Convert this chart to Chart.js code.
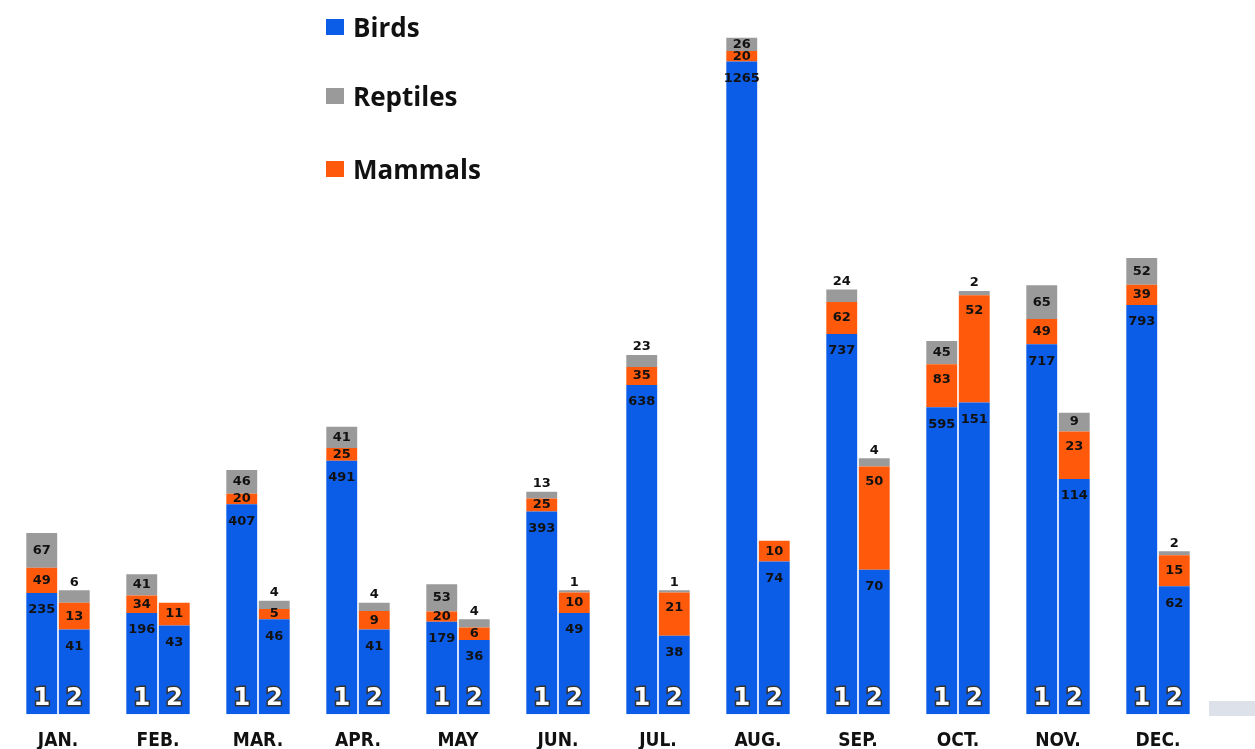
<!DOCTYPE html>
<html>
<head>
<meta charset="utf-8">
<script src="https://cdn.jsdelivr.net/npm/chart.js@4.4.1/dist/chart.umd.min.js"></script>
<style>
  html, body { margin: 0; padding: 0; background: #fff; overflow: hidden; }
  #wrap { position: relative; width: 1255px; height: 749px; overflow: hidden; }
  #legend { position: absolute; left: 326px; top: 0; font-family: "Open Sans", sans-serif; font-weight: 700; font-size: 26px; color: #111; }
  .item { position: absolute; left: 0; white-space: nowrap; display: flex; align-items: center; }
  .box { width: 18px; height: 16px; margin-right: 9px; }
</style>
</head>
<body>
<div id="wrap">
  <canvas id="myChart" width="1255" height="767"></canvas>
  <div id="legend"></div>
</div>
<script>
// months and the two bars per month (1 and 2)
const months = ['JAN.', 'FEB.', 'MAR.', 'APR.', 'MAY', 'JUN.', 'JUL.', 'AUG.', 'SEP.', 'OCT.', 'NOV.', 'DEC.'];

const birds1    = [235, 196, 407, 491, 179, 393, 638, 1265, 737, 595, 717, 793];
const mammals1  = [49, 34, 20, 25, 20, 25, 35, 20, 62, 83, 49, 39];
const reptiles1 = [67, 41, 46, 41, 53, 13, 23, 26, 24, 45, 65, 52];

const birds2    = [41, 43, 46, 41, 36, 49, 38, 74, 70, 151, 114, 62];
const mammals2  = [13, 11, 5, 9, 6, 10, 21, 10, 50, 52, 23, 15];
const reptiles2 = [6, 0, 4, 4, 4, 1, 1, 0, 4, 2, 9, 2];

const BLUE = '#0b5ce6';
const ORANGE = '#ff5a0c';
const GRAY = '#9a9a9a';

// legend (html, vertical)
const legendItems = [['Birds', BLUE, 27], ['Reptiles', GRAY, 96], ['Mammals', ORANGE, 169]];
const legendEl = document.getElementById('legend');
for (let it of legendItems) {
    let d = document.createElement('div');
    d.className = 'item';
    d.style.top = (it[2] - 18) + 'px';
    d.innerHTML = '<span class="box" style="background:' + it[1] + '"></span><span>' + it[0] + '</span>';
    legendEl.appendChild(d);
}

const mk = (label, data, color, stack, axis, kind, barNo) => ({
    label: label, data: data, backgroundColor: color, stack: stack, yAxisID: axis,
    kind: kind, barNo: barNo, borderWidth: 0, categoryPercentage: 0.65, barPercentage: 0.95
});

const datasets = [
    mk('Birds', birds1, BLUE, 's1', 'y', 'birds', '1'),
    mk('Mammals', mammals1, ORANGE, 's1', 'y', 'mammals', '1'),
    mk('Reptiles', reptiles1, GRAY, 's1', 'y', 'reptiles', '1'),
    mk('Birds', birds2, BLUE, 's2', 'y2', 'birds', '2'),
    mk('Mammals', mammals2, ORANGE, 's2', 'y2', 'mammals', '2'),
    mk('Reptiles', reptiles2, GRAY, 's2', 'y2', 'reptiles', '2'),
];

// numbers in the segments + the 1 / 2 at the foot of each bar
const segLabels = {
    id: 'segLabels',
    afterDatasetsDraw(chart) {
        const ctx = chart.ctx;
        ctx.save();
        ctx.textAlign = 'center';
        ctx.textBaseline = 'middle';
        chart.data.datasets.forEach((ds, i) => {
            const meta = chart.getDatasetMeta(i);
            meta.data.forEach((el, j) => {
                const v = ds.data[j];
                if (!v) return;
                const top = Math.min(el.y, el.base);
                const h = Math.abs(el.base - el.y);
                let y;
                if (ds.kind === 'birds') {
                    y = h > 60 ? top + 17 : top + h / 2;
                } else if (ds.kind === 'mammals') {
                    y = h > 40 ? top + 15 : top + h / 2;
                } else {
                    y = h >= 13 ? top + h / 2 : top - 8;
                }
                ctx.font = 'bold 13px "DejaVu Sans"';
                ctx.fillStyle = '#111';
                ctx.fillText(String(v), el.x, y);
            });
            if (ds.kind === 'birds') {
                meta.data.forEach((el) => {
                    ctx.font = 'bold 24px "DejaVu Sans"';
                    ctx.lineWidth = 3;
                    ctx.strokeStyle = '#333';
                    ctx.strokeText(ds.barNo, el.x, el.base - 15);
                    ctx.fillStyle = '#fff';
                    ctx.fillText(ds.barNo, el.x, el.base - 15);
                });
            }
        });
        // little hatched patch at the lower right
        ctx.fillStyle = '#dde2ea';
        ctx.fillRect(1209, 701, 46, 15);
        ctx.restore();
    }
};

const ctx = document.getElementById('myChart').getContext('2d');
const myChart = new Chart(ctx, {
    type: 'bar',
    data: { labels: months, datasets: datasets },
    options: {
        responsive: false,
        animation: false,
        layout: { padding: { left: 8, right: 47, top: 0, bottom: 0 } },
        plugins: { legend: { display: false }, tooltip: { enabled: false } },
        scales: {
            x: {
                grid: { display: false, drawTicks: false },
                border: { display: false },
                ticks: { padding: 15, color: '#111', font: { family: 'DejaVu Sans Condensed', weight: 'bold', size: 19 } }
            },
            y: { stacked: true, display: false, min: 0, max: 1384 },
            y2: { stacked: true, display: false, min: 0, max: 346 }
        }
    },
    plugins: [segLabels]
});
</script>
</body>
</html>
